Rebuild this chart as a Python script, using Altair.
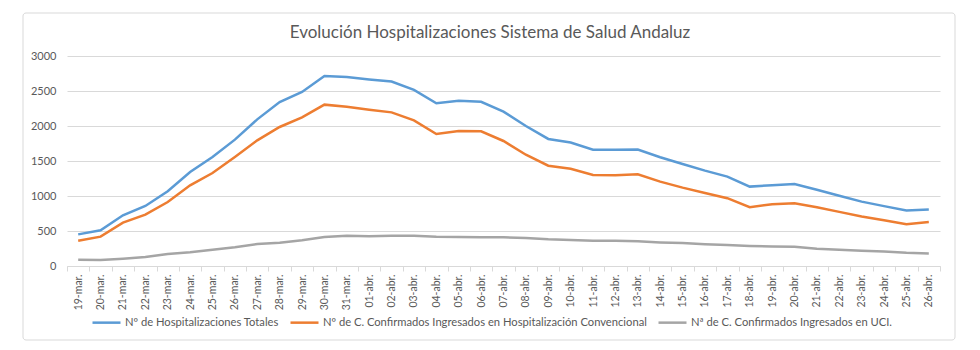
import altair as alt
import pandas as pd

fechas = ["19-mar.", "20-mar.", "21-mar.", "22-mar.", "23-mar.", "24-mar.", "25-mar.",
          "26-mar.", "27-mar.", "28-mar.", "29-mar.", "30-mar.", "31-mar.",
          "01-abr.", "02-abr.", "03-abr.", "04-abr.", "05-abr.", "06-abr.", "07-abr.",
          "08-abr.", "09-abr.", "10-abr.", "11-abr.", "12-abr.", "13-abr.", "14-abr.",
          "15-abr.", "16-abr.", "17-abr.", "18-abr.", "19-abr.", "20-abr.", "21-abr.",
          "22-abr.", "23-abr.", "24-abr.", "25-abr.", "26-abr."]

totales = [452, 510, 724, 857, 1067, 1343, 1557, 1805, 2095, 2343, 2486, 2714, 2700,
           2665, 2635, 2515, 2325, 2360, 2345, 2205, 2000, 1815, 1765, 1660, 1660, 1665,
           1553, 1457, 1362, 1277, 1134, 1154, 1172, 1090, 1003, 920, 855, 792, 806]

convencional = [362, 419, 619, 733, 914, 1152, 1329, 1557, 1795, 1986, 2124, 2305, 2276,
                2233, 2195, 2081, 1886, 1929, 1924, 1786, 1590, 1433, 1390, 1300, 1295, 1310,
                1205, 1120, 1044, 969, 840, 883, 897, 840, 773, 707, 655, 598, 627]

uci = [90, 86, 105, 129, 171, 195, 233, 267, 314, 333, 367, 414, 433,
       424, 433, 433, 419, 414, 410, 410, 400, 381, 371, 362, 362, 352,
       336, 327, 312, 299, 285, 278, 275, 246, 232, 218, 208, 189, 180]

series = ["Nº de Hospitalizaciones Totales",
          "Nº de C. Confirmados Ingresados en Hospitalización Convencional",
          "Nª de C. Confirmados Ingresados en UCI."]
colores = ["#5B9BD5", "#ED7D31", "#A5A5A5"]

titulo = "Evolución Hospitalizaciones Sistema de Salud Andaluz"

rows = []
for nombre, vals in zip(series, [totales, convencional, uci]):
    for f, v in zip(fechas, vals):
        rows.append({"fecha": f, "valor": v, "serie": nombre})
df = pd.DataFrame(rows)

FONT = "Lato"
GREY_TXT = "#595959"
GRID = "#D9D9D9"

one = pd.DataFrame({"t": [titulo]})

frame = alt.Chart(one).mark_rect(
    fillOpacity=0, stroke=GRID, strokeWidth=1, cornerRadius=3
).encode(
    x=alt.value(-44), x2=alt.value(888), y=alt.value(-43), y2=alt.value(284)
)

title_mark = alt.Chart(one).mark_text(
    font=FONT, fontSize=17, color=GREY_TXT, align="center", baseline="middle"
).encode(
    x=alt.value(423), y=alt.value(-23), text="t:N"
)

lines = alt.Chart(df).mark_line(strokeWidth=2.5).encode(
    x=alt.X("fecha:N", sort=fechas,
            scale=alt.Scale(type="band", paddingInner=0, paddingOuter=0),
            axis=alt.Axis(title=None, labelAngle=-90, tickBand="extent",
                          domainColor=GRID, tickColor=GRID, tickSize=5,
                          labelColor=GREY_TXT, labelFont=FONT, labelFontSize=10.5,
                          labelPadding=3, grid=False)),
    y=alt.Y("valor:Q", scale=alt.Scale(domain=[0, 3000], nice=False),
            axis=alt.Axis(title=None, values=[0, 500, 1000, 1500, 2000, 2500, 3000],
                          format="d", domain=False, ticks=False, gridColor=GRID,
                          labelColor=GREY_TXT, labelFont=FONT, labelFontSize=11,
                          labelPadding=11)),
    color=alt.Color("serie:N", sort=series,
                    scale=alt.Scale(domain=series, range=colores),
                    legend=alt.Legend(title=None, orient="none", direction="horizontal",
                                      legendX=24, legendY=251,
                                      symbolType="stroke", symbolSize=784,
                                      symbolStrokeWidth=2.5, columnPadding=6,
                                      labelOffset=3, labelFont=FONT, labelFontSize=11.2,
                                      labelColor=GREY_TXT, labelLimit=500))
)

chart = alt.layer(frame, title_mark, lines).properties(
    width=873, height=210,
    autosize=alt.AutoSizeParams(type="none"),
    padding={"left": 67, "top": 56, "right": 40, "bottom": 84},
).configure_view(stroke=None)

chart.save("out.html", embed_options={"renderer": "svg", "actions": False})
